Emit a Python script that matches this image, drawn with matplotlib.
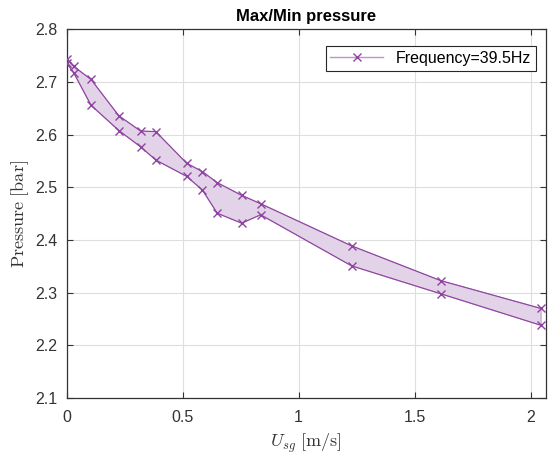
import numpy as np
import matplotlib
matplotlib.use('Agg')
import matplotlib.pyplot as plt

plt.rcParams['font.family'] = ['Liberation Sans', 'DejaVu Sans']
plt.rcParams['mathtext.fontset'] = 'cm'

# superficial gas velocity [m/s]
usg = [0.0, 0.03, 0.105, 0.225, 0.319, 0.384, 0.517, 0.585, 0.649, 0.754, 0.836, 1.228, 1.612, 2.045]
# max / min pressure [bar]
p_max = [2.744, 2.730, 2.705, 2.636, 2.607, 2.606, 2.546, 2.530, 2.509, 2.485, 2.469, 2.389, 2.323, 2.270]
p_min = [2.736, 2.718, 2.656, 2.608, 2.577, 2.552, 2.521, 2.495, 2.451, 2.432, 2.448, 2.351, 2.298, 2.238]

line_c = '#8e44a0'
fill_c = '#e3d3e8'
edge_c = '#c79ad0'
ax_c = '#333333'

fig = plt.figure(figsize=(5.48, 4.55), dpi=100)
ax = fig.add_axes([0.1217, 0.1253, 0.8746, 0.8099])

# shaded band between max and min
xs = np.concatenate([usg, usg[::-1]])
ys = np.concatenate([p_max, p_min[::-1]])
ax.fill(xs, ys, facecolor=fill_c, edgecolor=edge_c, linewidth=0.8, zorder=2)
ax.plot(usg, p_max, color=line_c, marker='x', markersize=6, linewidth=0.8, zorder=3)
ax.plot(usg, p_min, color=line_c, marker='x', markersize=6, linewidth=0.8, zorder=3)

# legend proxy
ax.plot([], [], color='#c58fcf', marker='x', markersize=6, markeredgecolor=line_c,
        linewidth=1.0, label='Frequency=39.5Hz')
leg = ax.legend(loc='upper right', fontsize=11.5, fancybox=False, framealpha=1,
                edgecolor='#262626', handlelength=3.3, borderpad=0.3, borderaxespad=0,
                bbox_to_anchor=(0.979, 0.955))
leg.get_frame().set_linewidth(0.8)

ax.set_xlim(0, 2.066)
ax.set_ylim(2.1, 2.8)
ax.set_xticks([0, 0.5, 1, 1.5, 2])
ax.set_xticklabels(['0', '0.5', '1', '1.5', '2'])
ax.set_yticks(np.arange(2.1, 2.81, 0.1))
ax.set_yticklabels(['2.1', '2.2', '2.3', '2.4', '2.5', '2.6', '2.7', '2.8'])
ax.grid(True, color='#dedede', linewidth=0.8)
ax.set_axisbelow(True)
ax.tick_params(direction='in', length=4, colors=ax_c, labelsize=11.5, top=True, right=True)
ax.tick_params(axis='x', pad=9)
ax.tick_params(axis='y', pad=6.7)
for s in ax.spines.values():
    s.set_color(ax_c)
    s.set_linewidth(0.9)

ax.set_title('Max/Min pressure', fontsize=12, fontweight='bold', color='black', pad=6)
ax.set_xlabel(r'$U_{sg}\ \mathrm{[m/s]}$', fontsize=13, color=ax_c, labelpad=4.5)
ax.set_ylabel(r'$\mathrm{Pressure\ [bar]}$', fontsize=13, color=ax_c, labelpad=3)

fig.savefig('out.png', dpi=100)
